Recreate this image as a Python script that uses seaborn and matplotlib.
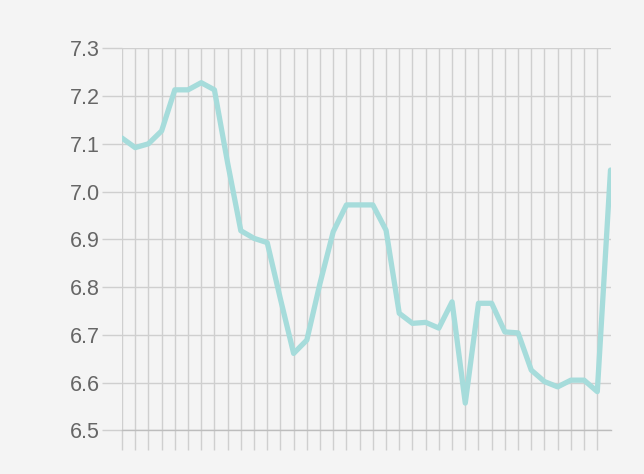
import matplotlib
matplotlib.use("Agg")
import matplotlib.pyplot as plt
import seaborn as sns
import pandas as pd
import numpy as np

# ---- data ----
values = [7.112, 7.092, 7.100, 7.127, 7.213, 7.213, 7.228, 7.213, 7.060, 6.918,
          6.902, 6.893, 6.775, 6.661, 6.689, 6.808, 6.916, 6.972, 6.972, 6.972,
          6.919, 6.745, 6.724, 6.726, 6.714, 6.769, 6.557, 6.766, 6.766, 6.706,
          6.704, 6.626, 6.602, 6.591, 6.605, 6.605, 6.581, 7.045]
positions = list(range(len(values)))
y_ticks = [6.5, 6.6, 6.7, 6.8, 6.9, 7.0, 7.1, 7.2, 7.3]
y_tick_labels = ["6.5", "6.6", "6.7", "6.8", "6.9", "7.0", "7.1", "7.2", "7.3"]
x_grid_positions = list(range(len(values) - 1))

df = pd.DataFrame({"x": positions, "y": values})

sns.set_theme(style="white")
plt.rcParams["font.family"] = ["Liberation Sans", "DejaVu Sans"]

BG = "#f4f4f4"
GRID = "#cfcfcf"
LINE = "#a6dcdb"

fig = plt.figure(figsize=(6.44, 4.74), dpi=100, facecolor=BG)
W, H = 644, 474
left, right = 122, 610.5
top, bottom = 48.3, 430.3
ax = fig.add_axes([left / W, 1 - bottom / H, (right - left) / W, (bottom - top) / H])
ax.set_facecolor(BG)

sns.lineplot(data=df, x="x", y="y", ax=ax, color=LINE, linewidth=3.8,
             solid_joinstyle="round", zorder=3)

ax.set_xlim(0, len(values) - 1)
ax.set_ylim(6.5, 7.3)
ax.set_xticks(x_grid_positions)
ax.set_xticklabels([])
ax.set_yticks(y_ticks)
ax.set_yticklabels(y_tick_labels)
ax.set_xlabel("")
ax.set_ylabel("")

ax.grid(True, color=GRID, linewidth=1.0, zorder=0)
for s in ax.spines.values():
    s.set_visible(False)
ax.spines["bottom"].set_visible(True)
ax.spines["bottom"].set_color("#bdbdbd")
ax.spines["bottom"].set_linewidth(1.0)

ax.tick_params(axis="both", which="both", direction="out", length=14.4,
               width=1.0, color=GRID, pad=1.5, bottom=True, left=True)
ax.tick_params(axis="y", labelsize=15.5, labelcolor="#666666")
for lbl in ax.get_yticklabels():
    lbl.set_fontweight("medium")
ax.set_axisbelow(True)

fig.savefig("out.png", dpi=100, facecolor=BG)
